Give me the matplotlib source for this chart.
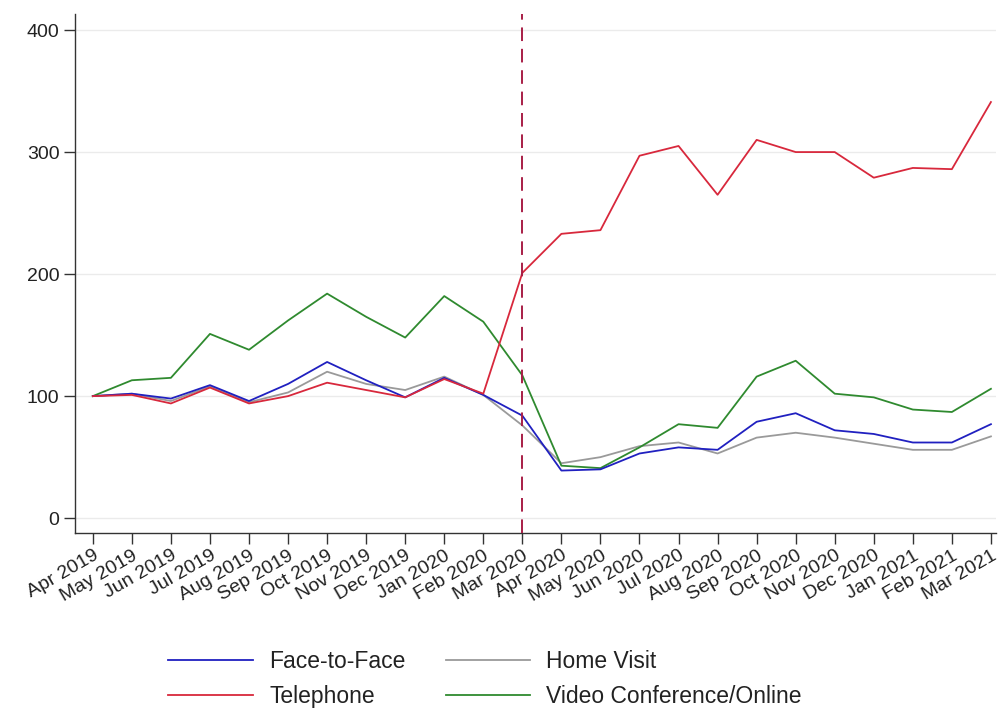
#!/usr/bin/env python3
"""Monthly appointment index by consultation mode, Apr 2019 = 100."""

import matplotlib

matplotlib.use("Agg")
import matplotlib.pyplot as plt

plt.rcParams["font.family"] = ["Liberation Sans", "DejaVu Sans"]

MONTHS = [
    "Apr 2019", "May 2019", "Jun 2019", "Jul 2019", "Aug 2019", "Sep 2019",
    "Oct 2019", "Nov 2019", "Dec 2019", "Jan 2020", "Feb 2020", "Mar 2020",
    "Apr 2020", "May 2020", "Jun 2020", "Jul 2020", "Aug 2020", "Sep 2020",
    "Oct 2020", "Nov 2020", "Dec 2020", "Jan 2021", "Feb 2021", "Mar 2021",
]

FACE_TO_FACE = [100, 102, 98, 109, 96, 110, 128, 113, 99, 115, 101, 84,
                39, 40, 53, 58, 56, 79, 86, 72, 69, 62, 62, 77]
HOME_VISIT = [100, 102, 96, 108, 95, 103, 120, 110, 105, 116, 101, 76,
              45, 50, 59, 62, 53, 66, 70, 66, 61, 56, 56, 67]
TELEPHONE = [100, 101, 94, 107, 94, 100, 111, 105, 99, 114, 102, 201,
             233, 236, 297, 305, 265, 310, 300, 300, 279, 287, 286, 341]
VIDEO = [100, 113, 115, 151, 138, 162, 184, 165, 148, 182, 161, 117,
         43, 41, 58, 77, 74, 116, 129, 102, 99, 89, 87, 106]

LOCKDOWN_MONTH = "Mar 2020"
Y_TICKS = [0, 100, 200, 300, 400]

fig = plt.figure(figsize=(9.98, 7.09), dpi=100)
ax = fig.add_axes([0.075, 0.248, 0.923, 0.732])

x = list(range(len(MONTHS)))
ax.plot(x, FACE_TO_FACE, color="#2020c0", linewidth=1.3, label="Face-to-Face", zorder=3)
ax.plot(x, TELEPHONE, color="#d8283c", linewidth=1.3, label="Telephone", zorder=4)
ax.plot(x, HOME_VISIT, color="#9a9a9a", linewidth=1.3, label="Home Visit", zorder=2)
ax.plot(x, VIDEO, color="#2f8a2f", linewidth=1.3, label="Video Conference/Online", zorder=2)

# dashed marker at the start of the first lockdown
ax.axvline(MONTHS.index(LOCKDOWN_MONTH), color="#a81e46", linewidth=1.4,
           dashes=(7, 4), zorder=5)

ax.set_xlim(-0.46, 23.13)
ax.set_ylim(-12.3, 413)
ax.set_yticks(Y_TICKS)
ax.set_xticks(x)
ax.set_xticklabels(MONTHS, rotation=30, ha="right", rotation_mode="anchor")
ax.tick_params(axis="both", labelsize=14, color="#333333", length=8,
               width=1.0, labelcolor="#222222")
ax.tick_params(axis="x", pad=2)
ax.tick_params(axis="y", pad=3)

ax.grid(axis="y", color="#ebebeb", linewidth=1.0, zorder=0)
for side in ("top", "right"):
    ax.spines[side].set_visible(False)
for side in ("left", "bottom"):
    ax.spines[side].set_color("#333333")
    ax.spines[side].set_linewidth(1.0)

handles, labels = ax.get_legend_handles_labels()
leg = fig.legend(handles, labels,
                 loc="center left", bbox_to_anchor=(0.148, 0.042), ncol=2, frameon=False,
                 fontsize=16.5, handlelength=3.7, handletextpad=0.7,
                 columnspacing=1.75, labelspacing=0.5)
for text in leg.get_texts():
    text.set_color("#222222")

fig.savefig("out.png", dpi=100)
